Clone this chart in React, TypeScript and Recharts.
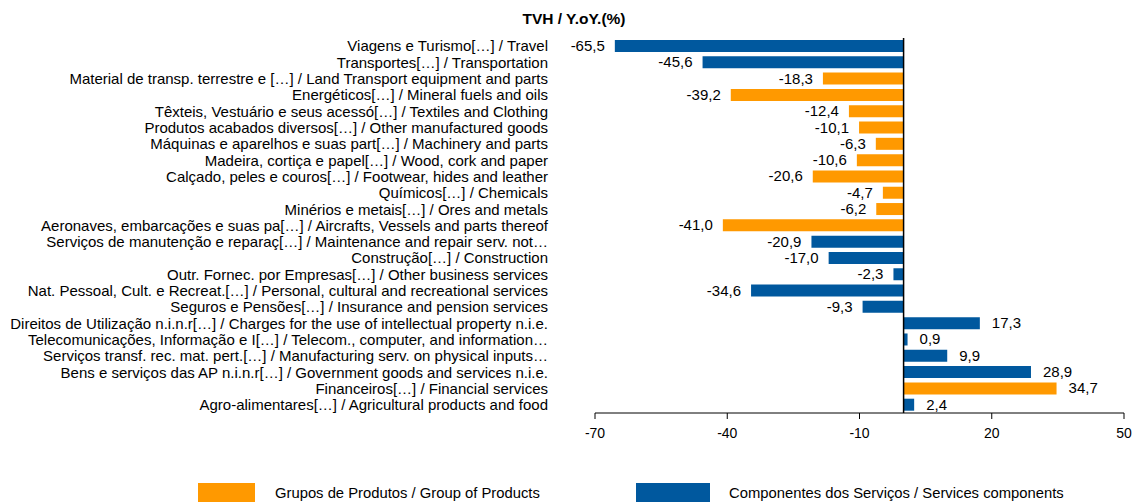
import React from 'react';
import { BarChart, Bar, XAxis, YAxis, ReferenceLine, Legend, LabelList } from 'recharts';

const categories = [
  'Viagens e Turismo[…] / Travel',
  'Transportes[…] / Transportation',
  'Material de transp. terrestre e […] / Land Transport equipment and parts',
  'Energéticos[…] / Mineral fuels and oils',
  'Têxteis, Vestuário e seus acessó[…] / Textiles and Clothing ',
  'Produtos acabados diversos[…] / Other manufactured goods',
  'Máquinas e aparelhos e suas part[…] / Machinery and parts',
  'Madeira, cortiça e papel[…] / Wood, cork and paper',
  'Calçado, peles e couros[…] / Footwear, hides and leather',
  'Químicos[…] / Chemicals',
  'Minérios e metais[…] / Ores and metals ',
  'Aeronaves, embarcações e suas pa[…] / Aircrafts, Vessels and parts thereof',
  'Serviços de manutenção e reparaç[…] / Maintenance and repair serv. not…',
  'Construção[…] / Construction',
  'Outr. Fornec. por Empresas[…] / Other business services',
  'Nat. Pessoal, Cult. e Recreat.[…] / Personal, cultural and recreational services',
  'Seguros e Pensões[…] / Insurance and pension services',
  'Direitos de Utilização n.i.n.r[…] / Charges for the use of intellectual property n.i.e.',
  'Telecomunicações, Informação e I[…] / Telecom., computer, and information…',
  'Serviços transf. rec. mat. pert.[…] / Manufacturing serv. on physical inputs…',
  'Bens e serviços das AP n.i.n.r[…] / Government goods and services n.i.e.',
  'Financeiros[…] / Financial services',
  'Agro-alimentares[…] / Agricultural products and food',
];

// null where the row belongs to the other group
const products = [null, null, -18.3, -39.2, -12.4, -10.1, -6.3, -10.6, -20.6, -4.7, -6.2, -41.0, null, null, null, null, null, null, null, null, null, 34.7, null];
const services = [-65.5, -45.6, null, null, null, null, null, null, null, null, null, null, -20.9, -17.0, -2.3, -34.6, -9.3, 17.3, 0.9, 9.9, 28.9, null, 2.4];

const xTicks = [-70, -40, -10, 20, 50];

const ORANGE = '#FF9900';
const BLUE = '#00589E';
const FONT = '"Liberation Sans", Arial, sans-serif';

const data = categories.map((name, i) => ({ name, products: products[i], services: services[i] }));

const ValueLabel = (props: any) => {
  const { x, y, width, height, value } = props;
  if (value === null || value === undefined) return null;
  const left = Math.min(x, x + width);
  const right = Math.max(x, x + width);
  const neg = value < 0;
  return (
    <text
      x={neg ? left - 10 : right + 12}
      y={y + height / 2}
      dy={5}
      textAnchor={neg ? 'end' : 'start'}
      fontSize={15}
      fontFamily={FONT}
      fill="#000"
    >
      {value.toFixed(1).replace('.', ',')}
    </text>
  );
};

const legendOrder = ['products', 'services'];

const LegendBox = (props: any) => {
  const items = [...(props.payload || [])].sort(
    (a: any, b: any) => legendOrder.indexOf(a.dataKey) - legendOrder.indexOf(b.dataKey)
  );
  const pos = [
    { box: 198, w: 57, text: 275 },
    { box: 636, w: 74, text: 729 },
  ];
  return (
    <div style={{ position: 'relative', width: 1135, height: 19 }}>
      {items.map((it: any, i: number) => (
        <React.Fragment key={i}>
          <div style={{ position: 'absolute', left: pos[i].box, top: 0, width: pos[i].w, height: 19, background: it.color }} />
          <div style={{ position: 'absolute', left: pos[i].text, top: 2, fontSize: 14.8, fontFamily: FONT, color: '#000', whiteSpace: 'nowrap' }}>
            {it.value}
          </div>
        </React.Fragment>
      ))}
    </div>
  );
};

export default function App() {
  return (
    <div style={{ position: 'absolute', left: 0, top: 0, width: 1135, height: 502, background: '#fff', fontFamily: FONT }}>
      <div style={{ position: 'absolute', left: 0, top: 10, width: 1148, textAlign: 'center', fontWeight: 'bold', fontSize: 15.5 }}>
        TVH / Y.oY.(%)
      </div>
      <BarChart
        width={1135}
        height={502}
        data={data}
        layout="vertical"
        margin={{ top: 38, right: 11, left: 0, bottom: 40 }}
        barSize={12}
      >
        <XAxis
          type="number"
          domain={[-70, 50]}
          ticks={xTicks}
          allowDataOverflow
          stroke="#000"
          tickSize={6}
          tickMargin={9}
          height={30}
          tick={{ fontSize: 14, fill: '#000', fontFamily: FONT }}
        />
        <YAxis
          type="category"
          dataKey="name"
          width={595}
          axisLine={false}
          tickLine={false}
          tickMargin={41}
          interval={0}
          tick={{ fontSize: 15, fill: '#000', fontFamily: FONT }}
        />
        <ReferenceLine x={0} stroke="#000" strokeWidth={1.5} />
        <Legend
          verticalAlign="bottom"
          wrapperStyle={{ left: 0, top: 483, width: 1135 }}
          content={<LegendBox />}
        />
        <Bar dataKey="products" name="Grupos de Produtos / Group of Products" stackId="a" fill={ORANGE} isAnimationActive={false}>
          <LabelList dataKey="products" content={<ValueLabel />} />
        </Bar>
        <Bar dataKey="services" name="Componentes dos Serviços / Services components" stackId="a" fill={BLUE} isAnimationActive={false}>
          <LabelList dataKey="services" content={<ValueLabel />} />
        </Bar>
      </BarChart>
    </div>
  );
}
